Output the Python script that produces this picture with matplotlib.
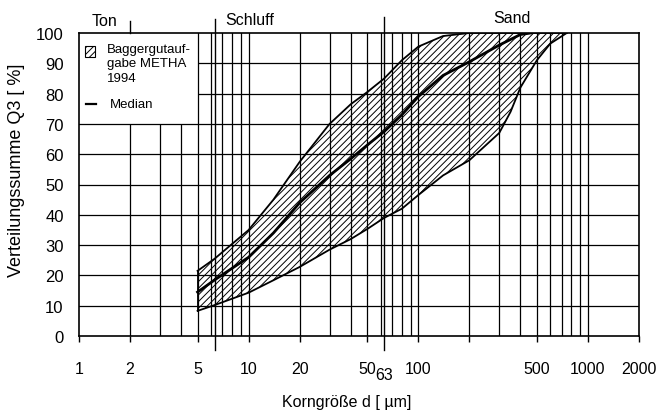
import numpy as np
import matplotlib
matplotlib.use("Agg")
import matplotlib.pyplot as plt
import matplotlib.patches as mpatches
from matplotlib.lines import Line2D

plt.rcParams['font.family'] = ['Liberation Sans', 'DejaVu Sans']
plt.rcParams['hatch.linewidth'] = 0.7

# grain size distribution band (Baggergut METHA 1994)
x_upper = [5, 6.3, 10, 14, 20, 30, 40, 50, 63, 80, 100, 140, 200, 750]
upper = [21.5, 25.5, 35, 45, 57.5, 70, 76.5, 80.5, 85, 91, 95.5, 99, 100, 100]

x_lower = [5, 6.3, 10, 14, 20, 30, 40, 50, 63, 80, 100, 140, 200, 300, 350, 400, 500, 600, 750]
lower = [8.3, 10.2, 14.3, 18.4, 22.8, 28.5, 32, 35.3, 39, 42, 46.5, 53, 58, 67, 74, 82, 91, 96.5, 100]

x_median = [5, 6.3, 10, 14, 20, 30, 40, 50, 63, 80, 100, 140, 200, 300, 400, 460]
median = [14.5, 18.5, 26, 34, 44, 53, 58.5, 63, 67.5, 73, 79, 86, 90.5, 96, 99.5, 100]

x_ticks = [1, 2, 5, 10, 20, 50, 100, 200, 500, 1000, 2000]
x_ticklabels = ['1', '2', '5', '10', '20', '50', '100', '', '500', '1000', '2000']
y_ticks = [0, 10, 20, 30, 40, 50, 60, 70, 80, 90, 100]

fractions = ['Ton', 'Schluff', 'Sand']

fig = plt.figure(figsize=(6.7, 4.14), dpi=100)
ax = fig.add_axes([79 / 670, 77 / 414, 560 / 670, 303 / 414])
ax.set_xscale('log')
ax.set_xlim(1, 2000)
ax.set_ylim(0, 100)

# grid: 1..9 per decade up to 1000, nothing between 1000 and 2000
grid_x = [d * k for d in (1, 10, 100) for k in range(1, 10)] + [1000]
for gx in grid_x:
    if gx in (2, 3, 4):
        # left upper corner is kept free for the legend
        ax.vlines(gx, 0, 70, color='black', lw=0.9, zorder=1)
    elif gx > 1:
        ax.axvline(gx, color='black', lw=0.9, zorder=1)
for gy in y_ticks[1:-1]:
    if gy >= 80:
        ax.hlines(gy, 5, 2000, color='black', lw=0.9, zorder=1)
    else:
        ax.axhline(gy, color='black', lw=0.9, zorder=1)

# fraction boundaries reach out of the frame
ax.axvline(2, ymin=1.0, ymax=1.04, color='black', lw=1.0, clip_on=False)
ax.axvline(6.3, ymin=-0.046, ymax=1.046, color='black', lw=1.0, clip_on=False)
ax.axvline(63, ymin=-0.046, ymax=1.053, color='black', lw=1.0, clip_on=False)

# hatched band
band_x = np.concatenate([x_upper, x_lower[::-1]])
band_y = np.concatenate([upper, lower[::-1]])
ax.fill(band_x, band_y, facecolor='none', edgecolor='black', hatch='/////',
        linewidth=0, zorder=2)
ax.plot(x_upper, upper, color='black', lw=1.3, zorder=3)
ax.plot(x_lower, lower, color='black', lw=1.3, zorder=3)
ax.plot([5, 5], [lower[0], upper[0]], color='black', lw=1.3, zorder=3)
ax.plot(x_median, median, color='black', lw=2.0, zorder=4)

# legend, drawn by hand
ax.add_patch(mpatches.Rectangle((0.011, 0.922), 0.018, 0.035, transform=ax.transAxes,
                                facecolor='white', edgecolor='black', hatch='/////',
                                lw=0.8, zorder=5))
ax.text(0.05, 0.968, 'Baggergutauf-\ngabe METHA\n1994', transform=ax.transAxes,
        ha='left', va='top', fontsize=9.5, linespacing=1.3, zorder=5)
ax.add_line(Line2D([0.0125, 0.03], [0.766, 0.766], transform=ax.transAxes,
                   color='black', lw=1.6, zorder=5))
ax.text(0.055, 0.766, 'Median', transform=ax.transAxes, ha='left', va='center',
        fontsize=9.5, zorder=5)

# fraction names above the frame
ax.text(0.0464, 1.04, fractions[0], transform=ax.transAxes, ha='center', va='center', fontsize=11.5)
ax.text(0.305, 1.043, fractions[1], transform=ax.transAxes, ha='center', va='center', fontsize=11.5)
ax.text(0.773, 1.05, fractions[2], transform=ax.transAxes, ha='center', va='center', fontsize=11.5)

ax.set_xticks(x_ticks)
ax.set_xticklabels(x_ticklabels)
ax.xaxis.set_minor_locator(matplotlib.ticker.NullLocator())
ax.tick_params(axis='x', direction='out', length=4, width=1, pad=14, labelsize=11.5)
ax.text(63, -0.128, '63', transform=ax.get_xaxis_transform(), ha='center', va='center',
        fontsize=11.5)

ax.set_yticks(y_ticks)
ax.tick_params(axis='y', length=0, pad=11, labelsize=12)

for sp in ax.spines.values():
    sp.set_linewidth(1.2)
    sp.set_zorder(6)

ax.set_xlabel('Korngröße d [ µm]', fontsize=11.5, va='top')
ax.xaxis.set_label_coords((347 - 79) / 560, (337 - 395) / 303)
ax.set_ylabel('Verteilungssumme Q3 [ %]', fontsize=13)
ax.yaxis.set_label_coords((25 - 79) / 560, (337 - 170) / 303)

fig.savefig('out.png', dpi=100)
